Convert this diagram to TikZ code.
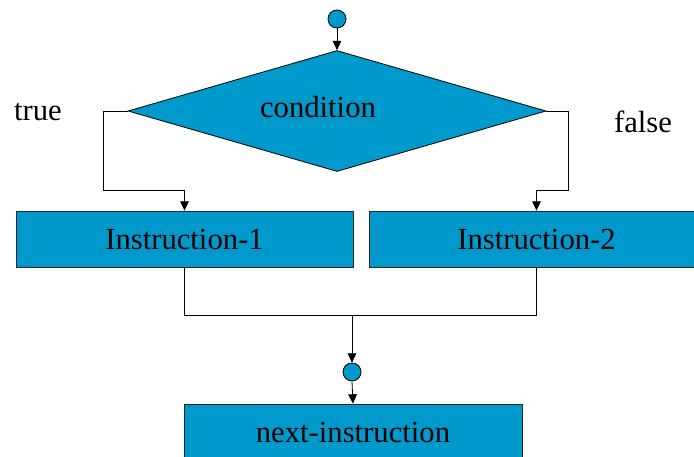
\documentclass[tikz,border=0pt]{standalone}
\usepackage{fontspec}
\setmainfont{Liberation Serif}
\usetikzlibrary{arrows.meta,shapes.geometric}
\definecolor{flowblue}{RGB}{0,153,204}
\begin{document}
\begin{tikzpicture}[x=0.75pt,y=-0.75pt,
  box/.style={draw=black!85, line width=0.6pt, fill=flowblue, inner sep=0pt, font=\fontsize{23}{27}\selectfont},
  dot/.style={circle, draw=black, line width=0.6pt, fill=flowblue, minimum size=13.5pt, inner sep=0pt},
  lbl/.style={font=\fontsize{23}{27}\selectfont, inner sep=0pt, anchor=base},
  wire/.style={draw=black, line width=0.6pt},
  arr/.style={wire, -{Triangle[length=7pt,width=6.5pt]}}]
\useasboundingbox (0,0) rectangle (694,457);
\clip (0,0) rectangle (694,457);
\fill[white] (0,0) rectangle (694,457);

\node[dot] (top) at (337,19) {};
\node[diamond, draw=black, line width=0.6pt, fill=flowblue, inner sep=0pt,
      minimum width=313.5pt, minimum height=90.75pt] (cond) at (337,111) {};
\node[lbl] (condtext) at (318,117) {condition};
\node[lbl] (truetext) at (38,120) {true};
\node[lbl] (falsetext) at (643,132) {false};

\node[box, minimum width=252.75pt, minimum height=42pt] (ins1) at (184.5,239) {Instruction-1};
\node[box, minimum width=251.25pt, minimum height=42pt] (ins2) at (536.5,239) {Instruction-2};
\node[dot] (dot2) at (352,372) {};
\node[box, minimum width=253.5pt, minimum height=42pt] (next) at (353,432) {next-instruction};

\coordinate (join) at (352,315);

\draw[arr] (top) -- (cond.north);
\draw[arr] (cond.west) -- ++(-24,0) -- ++(0,79) -| (ins1.north);
\draw[arr] (cond.east) -- ++(22,0) -- ++(0,79) -| (ins2.north);
\draw[wire] (ins1.south) -- ++(0,48) -| (ins2.south);
\draw[arr] (join) -- (dot2.north);
\draw[arr] (dot2.south) -- (next.north);
\end{tikzpicture}
\end{document}
